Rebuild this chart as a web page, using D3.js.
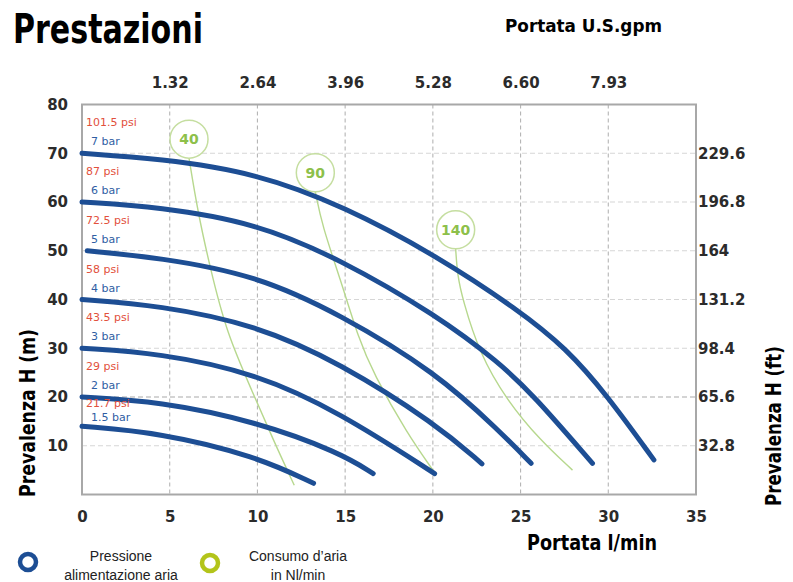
<!DOCTYPE html>
<html>
<head>
<meta charset="utf-8">
<script src="https://cdn.jsdelivr.net/npm/d3@7"></script>
<style>
  body { margin: 0; background: #fff; }
  svg { display: block; }
</style>
</head>
<body>
<svg id="chart"></svg>
<script>
// flow (l/min) and head (m) axes
var flowTicks = [0, 5, 10, 15, 20, 25, 30, 35];
var gpmLabels = ["1.32", "2.64", "3.96", "5.28", "6.60", "7.93"];
var headTicks = [10, 20, 30, 40, 50, 60, 70, 80];
var ftLabels = ["32.8", "65.6", "98.4", "131.2", "164", "196.8", "229.6"];

// pump curves, one per air supply pressure: [flow l/min, head m]
var barLabels = ["7 bar", "6 bar", "5 bar", "4 bar", "3 bar", "2 bar", "1.5 bar"];
var psiLabels = ["101.5 psi", "87 psi", "72.5 psi", "58 psi", "43.5 psi", "29 psi", "21.7 psi"];
var curve7 = [[0, 70], [4.4, 68.9], [9.9, 66.0], [15, 59.0], [20.2, 49.0], [24.9, 37.8], [27.6, 30.0], [29.9, 20.5], [32.6, 7.1]];
var curve6 = [[0, 60], [4.4, 59.0], [9.9, 55.7], [14.7, 48.3], [20.2, 36.8], [23.8, 27.0], [25.7, 20.5], [29.1, 6.4]];
var curve5 = [[0.3, 50], [4.4, 48.6], [9.9, 45.0], [14.7, 37.0], [20.2, 25.0], [23.8, 13.0], [25.6, 6.4]];
var curve4 = [[0, 40], [4.4, 38.8], [9.9, 34.8], [14.7, 27.0], [20.2, 14.4], [22.8, 6.3]];
var curve3 = [[0, 30], [4.4, 29.0], [9.9, 24.9], [14.7, 16.8], [20.1, 4.3]];
var curve2 = [[0, 20], [4.4, 19.1], [9.9, 15.0], [14.7, 8.6], [16.6, 4.3]];
var curve15 = [[0, 14], [4.4, 12.7], [9.9, 7.9], [13.2, 2.3]];

// air consumption lines (Nl/min)
var airLabels = ["40", "90", "140"];
var air40 = [[6.1, 69.0], [6.6, 58], [7.29, 46.7], [8.24, 33.1], [9.75, 20.8], [10.9, 11.2], [12.1, 1.9]];
var air90 = [[13.3, 62.1], [13.7, 55], [14.7, 44.5], [15.8, 31.6], [16.6, 25], [18.5, 12.6], [20.2, 4.0]];
var air140 = [[21.3, 50.4], [21.4, 45], [21.7, 40], [22.65, 29], [24.2, 19.4], [26.1, 11.2], [27.96, 5.0]];

var curves = [curve7, curve6, curve5, curve4, curve3, curve2, curve15];
var airLines = [air40, air90, air140];

var W = 793, H = 582;
var blue = "#1d4e94", green = "#b3c41a";
var boldFont = "'DejaVu Sans', Arial, sans-serif";
var condFont = "'DejaVu Sans Condensed', 'Liberation Sans Narrow', 'Arial Narrow', sans-serif";

var svg = d3.select("#chart").attr("width", W).attr("height", H);

var x = d3.scaleLinear().domain([0, 35]).range([82, 696]);
var y = d3.scaleLinear().domain([0, 80]).range([494.5, 104.5]);

// grid
var grid = svg.append("g");
grid.selectAll(".hg").data(headTicks.filter(function(d) { return d < 80; }))
  .enter().append("line")
    .attr("x1", x(0)).attr("x2", x(35))
    .attr("y1", function(d) { return y(d); })
    .attr("y2", function(d) { return y(d); })
    .attr("stroke", function(d) { return d === 20 ? "#a9a9a9" : "#d6d6d6"; })
    .attr("stroke-width", 1.2)
    .attr("stroke-dasharray", "5,3");
grid.selectAll(".vg").data(flowTicks.filter(function(d) { return d > 0 && d < 35; }))
  .enter().append("line")
    .attr("x1", function(d) { return x(d); })
    .attr("x2", function(d) { return x(d); })
    .attr("y1", y(80)).attr("y2", y(0))
    .attr("stroke", "#b5b5b5")
    .attr("stroke-width", 1.1)
    .attr("stroke-dasharray", "4,3");

// frame
svg.append("rect")
  .attr("x", x(0)).attr("y", y(80))
  .attr("width", x(35) - x(0)).attr("height", y(0) - y(80))
  .attr("fill", "none").attr("stroke", "#a8a8a8").attr("stroke-width", 2);

// axes (labels only, domain hidden)
function styleAxis(g) {
  g.select(".domain").remove();
  g.selectAll(".tick line").remove();
  g.selectAll(".tick text")
    .attr("fill", "#2b2b2b")
    .style("font-family", boldFont)
    .style("font-weight", "bold")
    .style("font-size", "15px");
}

svg.append("g")
  .attr("transform", "translate(0," + (y(0) + 9) + ")")
  .call(d3.axisBottom(x).tickValues(flowTicks).tickSize(0).tickPadding(8))
  .call(styleAxis);

svg.append("g")
  .attr("transform", "translate(" + (x(0) - 6) + ",0)")
  .call(d3.axisLeft(y).tickValues(headTicks).tickSize(0).tickPadding(8))
  .call(styleAxis);

svg.append("g")
  .attr("transform", "translate(0," + (y(80) - 17) + ")")
  .call(d3.axisTop(x).tickValues(flowTicks.slice(1, 7)).tickSize(0).tickPadding(0)
    .tickFormat(function(d, i) { return gpmLabels[i]; }))
  .call(styleAxis);

svg.append("g")
  .attr("transform", "translate(" + (x(35) + 2) + ",0)")
  .call(d3.axisRight(y).tickValues(headTicks.slice(0, 7)).tickSize(0).tickPadding(0)
    .tickFormat(function(d, i) { return ftLabels[i]; }))
  .call(styleAxis);

// smoothed lines through the read-off points
var line = d3.line()
  .x(function(d) { return x(d[0]); })
  .y(function(d) { return y(d[1]); })
  .curve(d3.curveBasis);

// air consumption lines
var r = 19;
airLines.forEach(function(pts, i) {
  svg.append("path")
    .attr("d", line(pts))
    .attr("fill", "none")
    .attr("stroke", "#b7d88e")
    .attr("stroke-width", 1.4);
  var cx = x(pts[0][0]), cy = y(pts[0][1]) - r;
  svg.append("circle")
    .attr("cx", cx).attr("cy", cy).attr("r", r)
    .attr("fill", "#fff").attr("fill-opacity", 0.6)
    .attr("stroke", "#c5dea0").attr("stroke-width", 1.5);
  svg.append("text")
    .attr("x", cx).attr("y", cy + 5)
    .attr("text-anchor", "middle")
    .attr("fill", "#8dc04a")
    .style("font-family", boldFont)
    .style("font-weight", "bold")
    .style("font-size", "14px")
    .text(airLabels[i]);
});

// pump curves
curves.forEach(function(pts, i) {
  svg.append("path")
    .attr("d", line(pts))
    .attr("fill", "none")
    .attr("stroke", blue)
    .attr("stroke-width", 5)
    .attr("stroke-linecap", "round");
  var y0 = y(curves[i][0][1]);
  var last = i === curves.length - 1;
  svg.append("text")
    .attr("x", x(0) + 4)
    .attr("y", y0 + (last ? -19 : -27))
    .attr("fill", "#e2503c")
    .style("font-family", "'DejaVu Sans', sans-serif")
    .style("font-size", "11px")
    .text(psiLabels[i]);
  svg.append("text")
    .attr("x", x(0) + 9)
    .attr("y", y0 + (last ? -5 : -8))
    .attr("fill", "#2f5ea3")
    .style("font-family", "'DejaVu Sans', sans-serif")
    .style("font-size", "11px")
    .text(barLabels[i]);
});

// titles
function title(txt, px, py, size, len, rot) {
  var t = svg.append("text")
    .attr("fill", "#000")
    .style("font-family", condFont)
    .style("font-weight", "bold")
    .style("font-size", size + "px")
    .attr("textLength", len)
    .attr("lengthAdjust", "spacingAndGlyphs")
    .text(txt);
  if (rot) {
    t.attr("transform", "translate(" + px + "," + py + ") rotate(-90)");
  } else {
    t.attr("x", px).attr("y", py);
  }
  return t;
}

title("Prestazioni", 13, 43, 40, 190);
title("Portata U.S.gpm", 505, 32, 18, 157);
title("Portata l/min", 527, 550, 22, 130);
title("Prevalenza H (m)", 35, 497, 21, 168, true);
title("Prevalenza H (ft)", 781, 506, 21, 160, true);

// legend
svg.append("circle").attr("cx", 28).attr("cy", 562).attr("r", 8)
  .attr("fill", "none").attr("stroke", blue).attr("stroke-width", 4.5);
svg.append("circle").attr("cx", 210).attr("cy", 563).attr("r", 8)
  .attr("fill", "none").attr("stroke", green).attr("stroke-width", 4.5);

var legendText = [["Pressione", 121, 561], ["alimentazione aria", 121, 580],
                  ["Consumo d\u2019aria", 298, 561], ["in Nl/min", 298, 580]];
svg.selectAll(".lg").data(legendText).enter().append("text")
  .attr("x", function(d) { return d[1]; })
  .attr("y", function(d) { return d[2]; })
  .attr("text-anchor", "middle")
  .attr("fill", "#222")
  .style("font-family", "'Liberation Sans', Arial, sans-serif")
  .style("font-size", "14px")
  .text(function(d) { return d[0]; });
</script>
</body>
</html>
